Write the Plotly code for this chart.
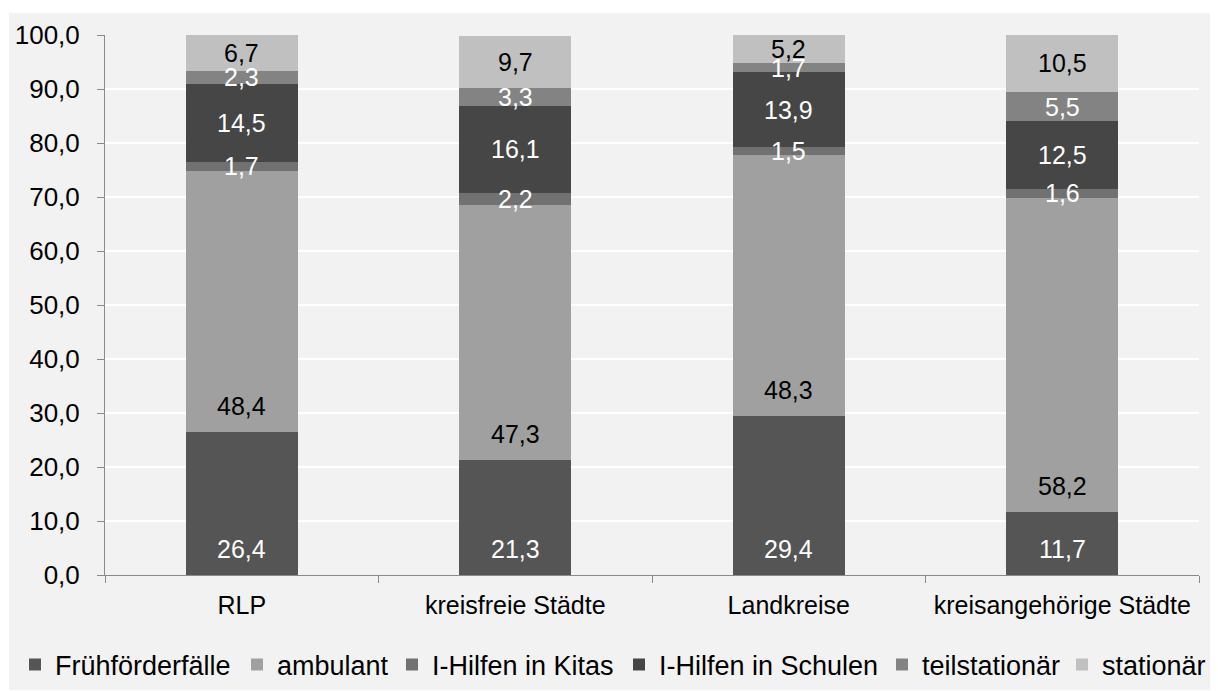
import plotly.graph_objects as go

categories = ["RLP", "kreisfreie Städte", "Landkreise", "kreisangehörige Städte"]
fruehfoerder = [26.4, 21.3, 29.4, 11.7]
ambulant = [48.4, 47.3, 48.3, 58.2]
kitas = [1.7, 2.2, 1.5, 1.6]
schulen = [14.5, 16.1, 13.9, 12.5]
teilstationaer = [2.3, 3.3, 1.7, 5.5]
stationaer = [6.7, 9.7, 5.2, 10.5]

series = [
    ("Frühförderfälle", fruehfoerder, "#555555", "white", "base"),
    ("ambulant", ambulant, "#a0a0a0", "black", "base"),
    ("I-Hilfen in Kitas", kitas, "#717171", "white", "center"),
    ("I-Hilfen in Schulen", schulen, "#464646", "white", "center"),
    ("teilstationär", teilstationaer, "#838383", "white", "center"),
    ("stationär", stationaer, "#c0c0c0", "black", "center"),
]

FONT = "Liberation Sans, Arial, sans-serif"
FS = 25

# page body has an 8px offset; positions below are in figure coordinates
L, R, T, B = 97, 27, 27, 124
W, H = 1218, 691
pw, ph = W - L - R, H - T - B

# left x (figure px) of each legend entry box
legend_x_px = [7, 229, 384, 611, 874, 1054]
legend_y = -(657 - (T + ph)) / ph

fig = go.Figure()
annotations = []
legends = {}
base = [0.0] * len(categories)
for k, (name, vals, color, tcol, pos) in enumerate(series):
    lname = "legend" if k == 0 else f"legend{k + 1}"
    legends[lname] = dict(orientation="h", x=(legend_x_px[k] - L) / pw, xanchor="left",
                          y=legend_y, yanchor="middle", visible=True,
                          font=dict(family=FONT, size=27, color="black"),
                          bgcolor="rgba(0,0,0,0)", itemwidth=30)
    fig.add_trace(go.Bar(
        name=name, x=categories, y=vals, marker=dict(color=color, line=dict(width=0)),
        hoverinfo="name+y", legend=lname, showlegend=True,
    ))
    for i, v in enumerate(vals):
        label = f"{v:.1f}".replace(".", ",")
        if pos == "base":
            annotations.append(dict(x=categories[i], y=base[i], xref="x", yref="y",
                                    text=label, showarrow=False, yanchor="middle", yshift=26,
                                    font=dict(family=FONT, size=FS, color=tcol)))
        else:
            annotations.append(dict(x=categories[i], y=base[i] + v / 2, xref="x", yref="y",
                                    text=label, showarrow=False, yanchor="middle",
                                    font=dict(family=FONT, size=FS, color=tcol)))
        base[i] += v

fig.update_layout(
    barmode="stack",
    bargap=0.59,
    showlegend=True,
    width=W, height=H,
    margin=dict(l=L, r=R, t=T, b=B, autoexpand=False),
    paper_bgcolor="white",
    plot_bgcolor="#f2f2f2",
    separators=",.",
    font=dict(family=FONT, size=FS, color="black"),
    annotations=annotations,
    shapes=[dict(type="rect", xref="paper", yref="paper",
                 x0=(1 - L) / pw, x1=(W - L) / pw,
                 y0=-(682 - (T + ph)) / ph, y1=1 + (T - 5) / ph,
                 fillcolor="#f2f2f2", line=dict(width=0), layer="below")],
    xaxis=dict(type="category", showline=True, linecolor="#8a8a8a", linewidth=1,
               ticks="outside", tickson="boundaries", ticklen=7, tickcolor="#8a8a8a",
               showgrid=False, ticklabelstandoff=8, tickfont=dict(size=25)),
    yaxis=dict(range=[0, 100], dtick=10, tickformat=".1f", showline=True, linecolor="#8a8a8a",
               linewidth=1, ticks="outside", ticklen=7, tickcolor="#8a8a8a",
               showgrid=True, gridcolor="white", gridwidth=1.5, zeroline=False,
               ticklabelstandoff=12, tickfont=dict(size=26)),
    **legends,
)

fig.write_html("out.html")
